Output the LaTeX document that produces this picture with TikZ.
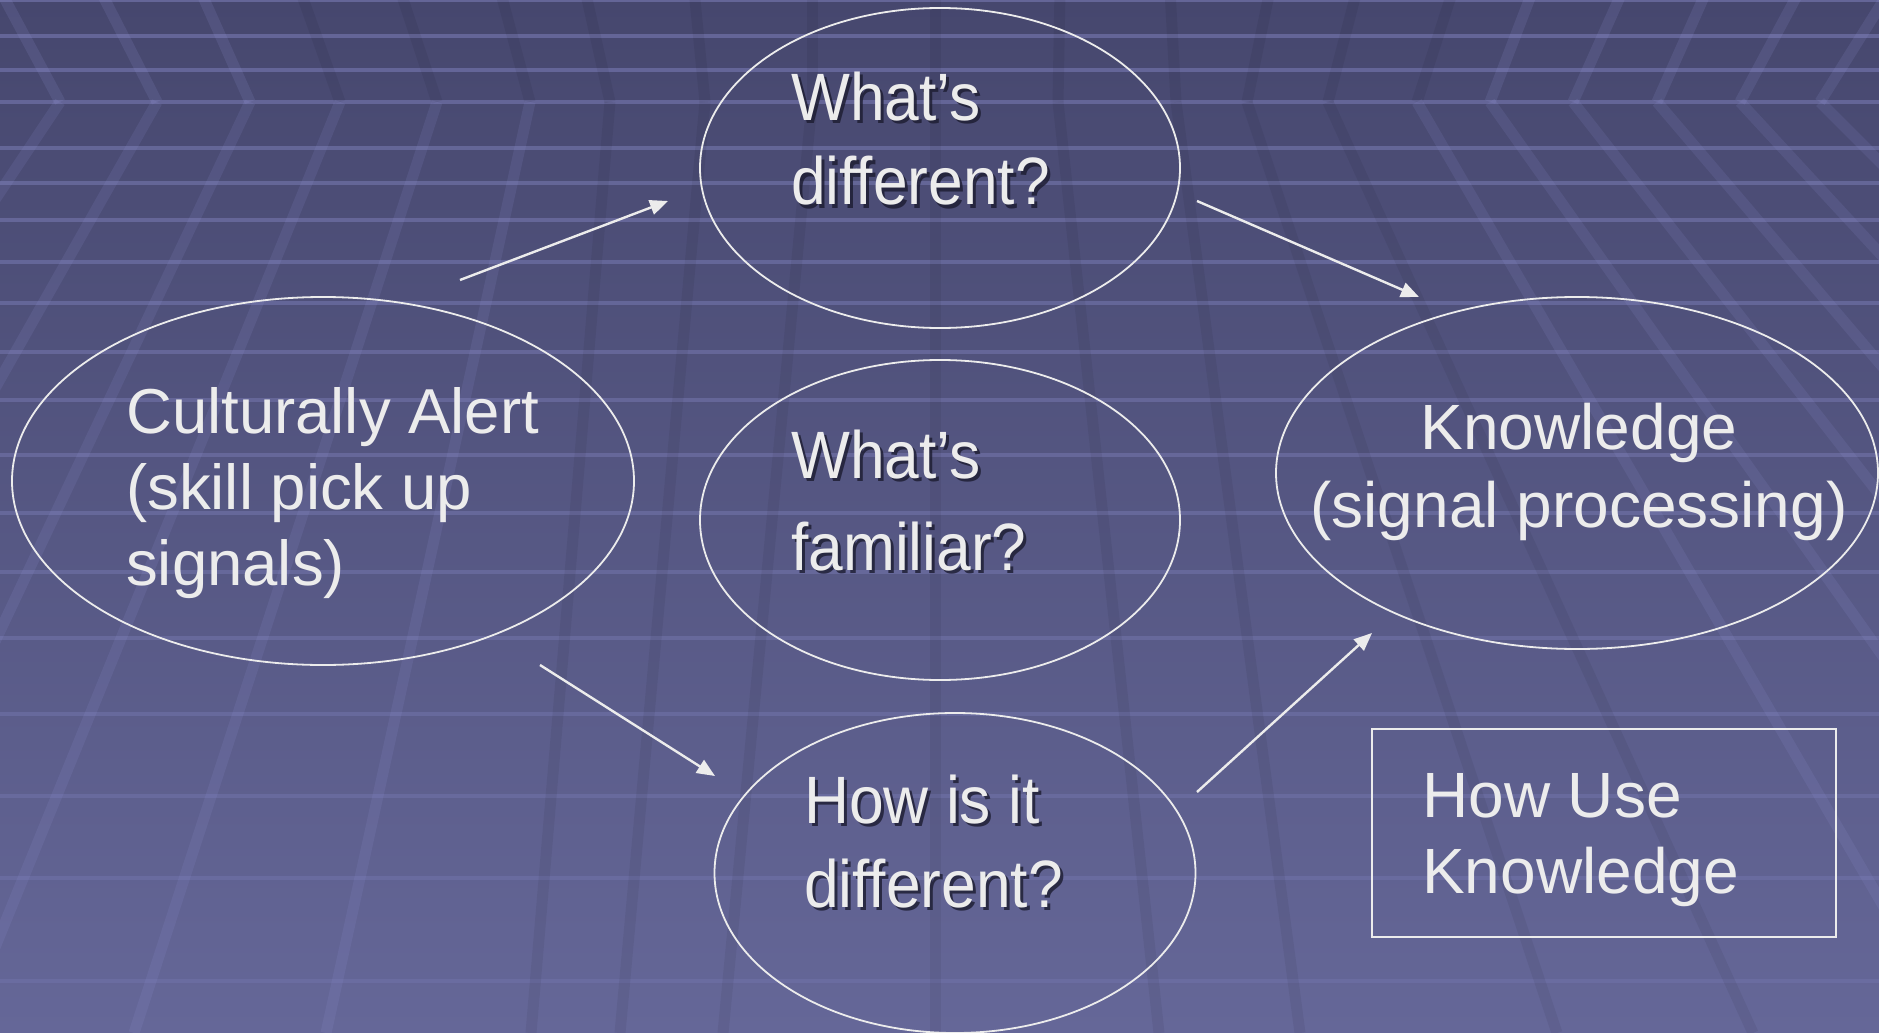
\documentclass[tikz,border=0pt]{standalone}
\usepackage{fontspec}
\setmainfont{Liberation Sans}
\newfontfamily\qfont[FakeStretch=0.93]{Liberation Sans}
\usetikzlibrary{shapes.geometric,arrows.meta}
\definecolor{ink}{RGB}{236,236,236}
\definecolor{bgtop}{RGB}{70,71,110}
\definecolor{bgbot}{RGB}{101,103,152}
\definecolor{lav}{RGB}{150,152,220}
\definecolor{shadowc}{RGB}{28,28,48}
\newcommand\qtext[3]{\parbox[t]{500pt}{\raggedright\qfont\fontsize{67}{#1}\selectfont #2\\#3}}
\begin{document}
\begin{tikzpicture}[x=1pt,y=-1pt,
  bubble/.style={ellipse,draw=ink,line width=1.8pt,inner sep=0pt},
  flow/.style={draw=ink,line width=2.4pt,-{Triangle[length=18pt,width=15pt]}},
  txt/.style={inner sep=0pt,text=ink},
  shd/.style={inner sep=0pt,text=shadowc,opacity=0.8},
  gridline/.style={lav,line width=3.5pt},
  band/.style={line width=11pt}]
\useasboundingbox (0,0) rectangle (1879,1033);
% background
\begin{scope}
\clip (0,0) rectangle (1879,1033);
\shade[top color=bgtop,bottom color=bgbot] (0,0) rectangle (1879,1033);
\foreach \yy in {0,36,70,102,148,183,220,262,303,352,400,455,513,572,638,714,796,878,981}{
  \pgfmathsetmacro\op{0.38-0.24*\yy/1033}
  \draw[gridline,opacity=\op] (0,\yy) -- (1879,\yy);
}
\foreach \tx/\cx/\bx/\up/\lo in {
  0/60/-560/1/1, 100/157/-370/1/1, 200/250/-190/1/1, 300/340/-40/0/1,
  400/437/134/0/1, 500/530/326/0/1, 585/610/531/0/0, 694/705/620/0/0,
  812/812/723/0/0, 935/935/935/0/0, 1060/1058/1159/0/0, 1170/1176/1300/0/0,
  1270/1247/1557/0/0, 1357/1328/1753/0/0, 1453/1417/1957/0/1, 1533/1490/2150/1/1,
  1623/1573/2300/1/1, 1707/1657/2450/1/1, 1800/1740/2600/1/1, 1890/1820/2750/1/1}{
  \ifnum\up=1
    \draw[band,lav,opacity=0.14] (\tx,-10) -- (\cx,102);
  \else
    \draw[band,black,opacity=0.06] (\tx,-10) -- (\cx,102);
  \fi
  \ifnum\lo=1
    \draw[band,lav,opacity=0.13] (\cx,102) -- (\bx,1033);
  \else
    \draw[band,black,opacity=0.06] (\cx,102) -- (\bx,1033);
  \fi
}
\end{scope}
% shapes
\node[bubble,minimum width=622pt,minimum height=368pt] (alert) at (323,481) {};
\node[bubble,minimum width=480pt,minimum height=320pt] (diff) at (940,168) {};
\node[bubble,minimum width=480pt,minimum height=320pt] (fam) at (940,520) {};
\node[bubble,minimum width=481pt,minimum height=320pt] (how) at (955,873) {};
\node[bubble,minimum width=602pt,minimum height=352pt] (know) at (1577,473) {};
\node[draw=ink,line width=1.8pt,minimum width=464pt,minimum height=208pt,inner sep=0pt] (use) at (1604,833) {};
% texts
\node[txt,anchor=base west] (talert) at (126,433)
  {\parbox[t]{560pt}{\raggedright\fontsize{63.5}{76}\selectfont Culturally Alert\\(skill pick up\\signals)}};
\node[txt,anchor=base] (tknow) at (1579,449)
  {\parbox[t]{640pt}{\centering\fontsize{64}{78}\selectfont Knowledge\\(signal processing)}};
\node[txt,anchor=base west] (tuse) at (1422,817)
  {\parbox[t]{400pt}{\raggedright\fontsize{64}{76}\selectfont How Use\\Knowledge}};
\node[shd,anchor=base west] (sdiff) at (794,123) {\qtext{85}{What’s}{different?}};
\node[txt,anchor=base west] (tdiff) at (791,120) {\qtext{85}{What’s}{different?}};
\node[shd,anchor=base west] (sfam) at (794,481) {\qtext{92}{What’s}{familiar?}};
\node[txt,anchor=base west] (tfam) at (791,478) {\qtext{92}{What’s}{familiar?}};
\node[shd,anchor=base west] (showd) at (807,826) {\qtext{84}{How is it}{different?}};
\node[txt,anchor=base west] (thowd) at (804,823) {\qtext{84}{How is it}{different?}};
% connectors
\coordinate (a1s) at (460,280); \coordinate (a1e) at (668,201);
\coordinate (a2s) at (1197,201); \coordinate (a2e) at (1419,297);
\coordinate (a3s) at (540,665); \coordinate (a3e) at (715,776);
\coordinate (a4s) at (1197,792); \coordinate (a4e) at (1372,633);
\draw[flow] (a1s) -- (a1e);
\draw[flow] (a2s) -- (a2e);
\draw[flow] (a3s) -- (a3e);
\draw[flow] (a4s) -- (a4e);
\end{tikzpicture}
\end{document}
